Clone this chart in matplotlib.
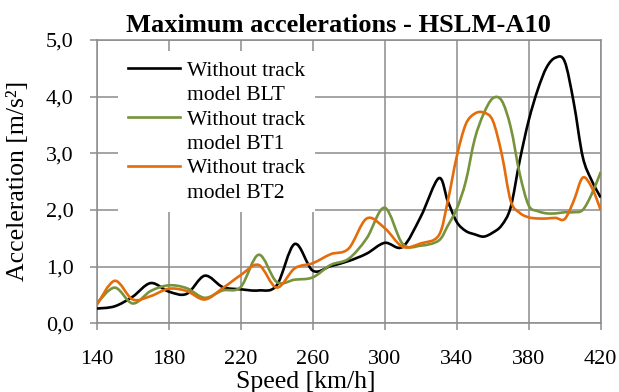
import numpy as np
import matplotlib
matplotlib.use('Agg')
import matplotlib.pyplot as plt
from matplotlib.path import Path
from matplotlib.patches import PathPatch
from matplotlib.lines import Line2D
from matplotlib.ticker import FuncFormatter

plt.rcParams['font.family'] = ['Liberation Serif', 'DejaVu Serif']

# Данные
speed = [140, 150, 160, 170, 180, 190, 200, 210, 220, 230, 240, 250, 260, 270,
         280, 290, 300, 310, 320, 330, 335, 340, 345, 350, 355, 360, 365, 370,
         375, 380, 385, 390, 395, 400, 405, 410, 415, 420]

acc_blt = [0.26, 0.30, 0.47, 0.71, 0.56, 0.52, 0.84, 0.64, 0.60, 0.58, 0.67, 1.40,
           0.93, 1.01, 1.10, 1.23, 1.42, 1.35, 1.88, 2.56, 2.16, 1.79, 1.63, 1.57,
           1.53, 1.60, 1.73, 2.05, 2.87, 3.58, 4.12, 4.52, 4.69, 4.62, 3.90, 2.94,
           2.52, 2.22]

acc_bt1 = [0.35, 0.63, 0.35, 0.57, 0.67, 0.62, 0.45, 0.58, 0.64, 1.21, 0.73, 0.77,
           0.81, 1.03, 1.14, 1.50, 2.04, 1.40, 1.37, 1.46, 1.72, 2.02, 2.50, 3.25,
           3.70, 3.97, 3.93, 3.46, 2.64, 2.08, 1.98, 1.94, 1.94, 1.96, 1.96, 2.00,
           2.28, 2.67]

acc_bt2 = [0.32, 0.75, 0.42, 0.48, 0.61, 0.57, 0.42, 0.62, 0.85, 1.03, 0.63, 0.97,
           1.06, 1.22, 1.32, 1.85, 1.68, 1.35, 1.41, 1.55, 2.15, 2.94, 3.51, 3.70,
           3.72, 3.58, 2.99, 2.16, 1.95, 1.87, 1.85, 1.85, 1.86, 1.84, 2.16, 2.57,
           2.40, 2.00]

x_ticks = [140, 180, 220, 260, 300, 340, 380, 420]
y_ticks = [0, 1, 2, 3, 4, 5]

series = [
    (acc_blt, 'black', 'model BLT'),
    (acc_bt1, '#77933C', 'model BT1'),
    (acc_bt2, '#E46C0A', 'model BT2'),
]

grid_col = '#8c8c8c'


# Сглаженная линия как в Excel (кривые Безье через точки)
def smooth_path(x, y):
    p = np.column_stack([x, y]).astype(float)
    ext = np.vstack([p[0], p, p[-1]])
    verts = [p[0]]
    codes = [Path.MOVETO]
    for i in range(len(p) - 1):
        p0, p1, p2, p3 = ext[i], ext[i + 1], ext[i + 2], ext[i + 3]
        verts += [p1 + (p2 - p0) / 6, p2 - (p3 - p1) / 6, p2]
        codes += [Path.CURVE4] * 3
    return Path(verts, codes)


fig = plt.figure(figsize=(6.19, 3.92), dpi=100)
ax = fig.add_axes([96.7 / 619, 1 - 323.3 / 392, 504 / 619, 283.3 / 392])

handles = []
labels = []
for vals, col, name in series:
    patch = PathPatch(smooth_path(speed, vals), facecolor='none', edgecolor=col,
                      linewidth=1.9, zorder=3)
    ax.add_patch(patch)
    handles += [Line2D([], [], color=col, linewidth=1.9), Line2D([], [], color='none')]
    labels += ['Without track', name]

ax.set_xlim(140, 420)
ax.set_ylim(0, 5)
ax.set_xticks(x_ticks)
ax.set_yticks(y_ticks)
ax.yaxis.set_major_formatter(FuncFormatter(lambda v, pos: f'{v:.1f}'.replace('.', ',')))

ax.grid(True, color=grid_col, linewidth=1.1, zorder=0)
ax.set_axisbelow(True)
for s in ax.spines.values():
    s.set_color(grid_col)
    s.set_linewidth(1.1)

ax.tick_params(axis='both', direction='out', length=4.7, width=1.1, color=grid_col,
               labelsize=16, labelcolor='black')
ax.tick_params(axis='x', pad=14.5)
ax.tick_params(axis='y', pad=12)

leg = ax.legend(handles, labels, loc='upper left', bbox_to_anchor=(118 / 619, 1 - 51 / 392),
                bbox_transform=fig.transFigure, fontsize=15.5, frameon=True,
                facecolor='white', edgecolor='none', framealpha=1, fancybox=False,
                handlelength=2.45, handletextpad=0.3, labelspacing=0.2,
                borderpad=0.45, borderaxespad=0)
leg.set_zorder(5)

fig.text(338 / 619, 1 - 32 / 392, 'Maximum accelerations - HSLM-A10', ha='center',
         va='baseline', fontsize=19, fontweight='bold')
fig.text(306 / 619, 1 - 388 / 392, 'Speed [km/h]', ha='center', va='baseline', fontsize=18.5)
fig.text(18 / 619, 1 - 181 / 392, 'Acceleration [m/s²]', ha='center', va='center',
         rotation=90, fontsize=18.5)

fig.savefig('out.png', dpi=100)
